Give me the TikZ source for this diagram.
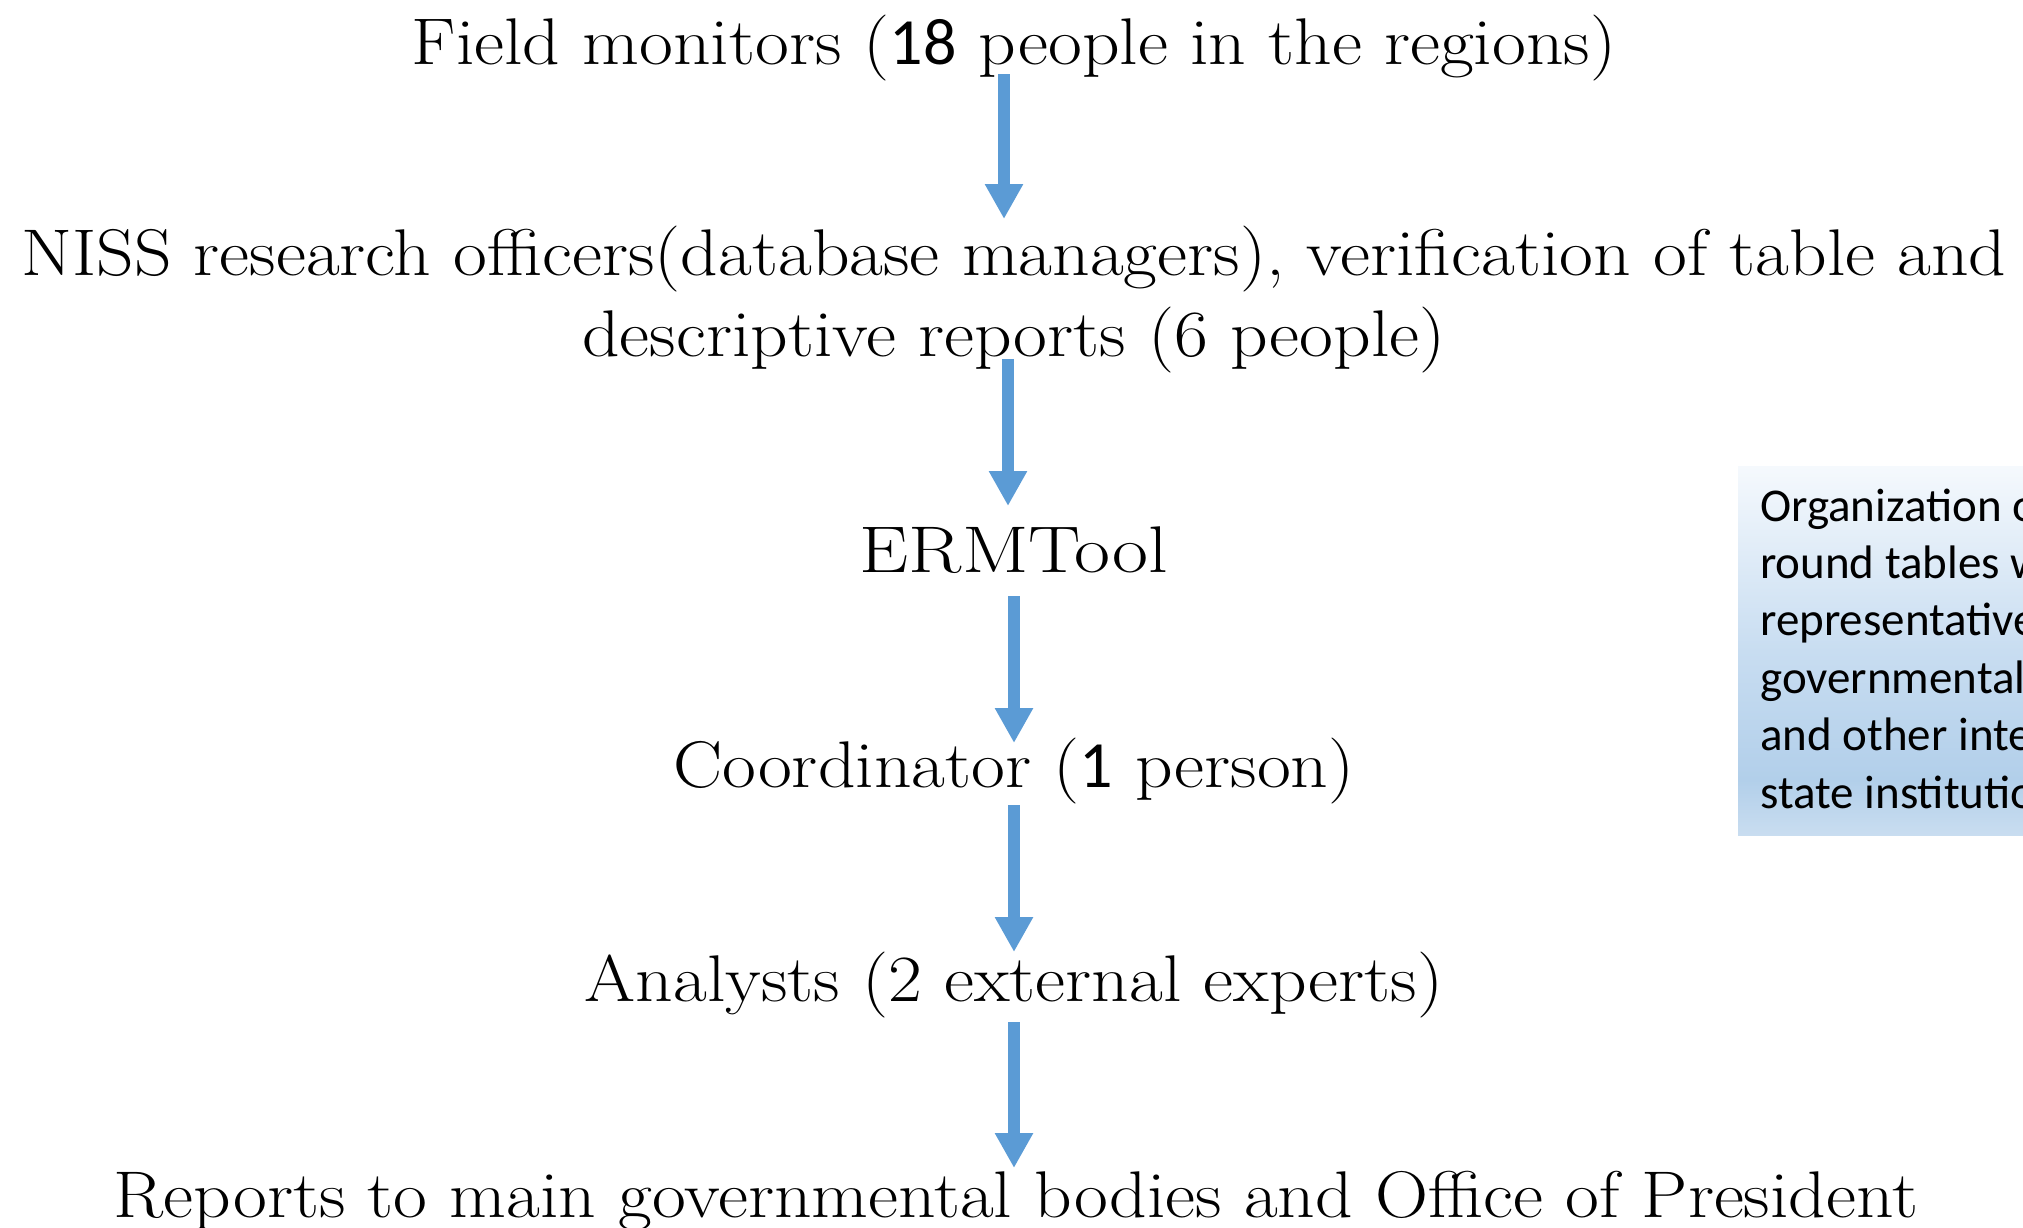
\documentclass[tikz,border=0pt]{standalone}
\usepackage{fontspec}
\setmainfont{lmroman17-regular}[Extension=.otf, FakeStretch=1.115]
\newfontfamily\ermfont{lmroman17-regular}[Extension=.otf, FakeStretch=1.185]
\newfontfamily\calib{Carlito}
\usetikzlibrary{arrows.meta,calc}
\definecolor{arrblue}{HTML}{5B9BD5}
\definecolor{bgtop}{HTML}{F5F9FD}
\definecolor{bgmid}{HTML}{C8DDF1}
\definecolor{bgdark}{HTML}{B2CFEA}
\definecolor{bgbot}{HTML}{C9DDF0}
\pgfdeclareverticalshading{boxgrad}{100bp}{color(0bp)=(bgbot); color(25bp)=(bgbot); color(32.5bp)=(bgdark); color(50bp)=(bgmid); color(75bp)=(bgtop); color(100bp)=(bgtop)}
\begin{document}
\begin{tikzpicture}[x=1pt,y=-1pt,
  lbl/.style={inner sep=0pt, anchor=base, font=\fontsize{66}{81}\selectfont, align=center},
  arr/.style={draw=arrblue, line width=12pt, -{Triangle[width=36pt,length=35pt]}},
  sidebox/.style={anchor=north west, minimum width=300pt, minimum height=369pt, inner sep=0pt, shading=boxgrad},
  sidetext/.style={anchor=base west, inner sep=0pt, align=left, font=\calib\fontsize{47}{57.4}\selectfont}]
\useasboundingbox (0,0) rectangle (2023,1227);
\node[lbl] (f) at (1014,64) {Field monitors ({\calib 18} people in the regions)};
\node[lbl] (n) at (1014,356) {NISS research officers(database managers), verification of table and\\descriptive reports (6 people)};
\node[lbl] (e) at (1014,572) {\ermfont ERMTool};
\node[lbl] (c) at (1014,787) {Coordinator ({\calib 1} person)};
\node[lbl] (a) at (1014,1001) {Analysts (2 external experts)};
\node[lbl] (r) at (1016,1217) {Reports to main governmental bodies and Office of President};
\draw[arr] ($(f.base)+(-10,10)$) -- ($(n.base)+(-10,-137)$);
\draw[arr] ($(n.base)+(-6,3)$) -- ($(e.base)+(-6,-66)$);
\draw[arr] ($(e.base)+(0,24)$) -- ($(c.base)+(0,-44)$);
\draw[arr] ($(c.base)+(0,18)$) -- ($(a.base)+(0,-49)$);
\draw[arr] ($(a.base)+(0,21)$) -- ($(r.base)+(-2,-49)$);
\begin{scope}
\clip (0,0) rectangle (2023,1227);
\node[sidebox] (b) at (1738,466) {};
\node[sidetext] (bt) at (1760,808) {Organization o\\round tables w\\representative\\governmental\\and other inte\\state institutio};
\end{scope}
\end{tikzpicture}
\end{document}
